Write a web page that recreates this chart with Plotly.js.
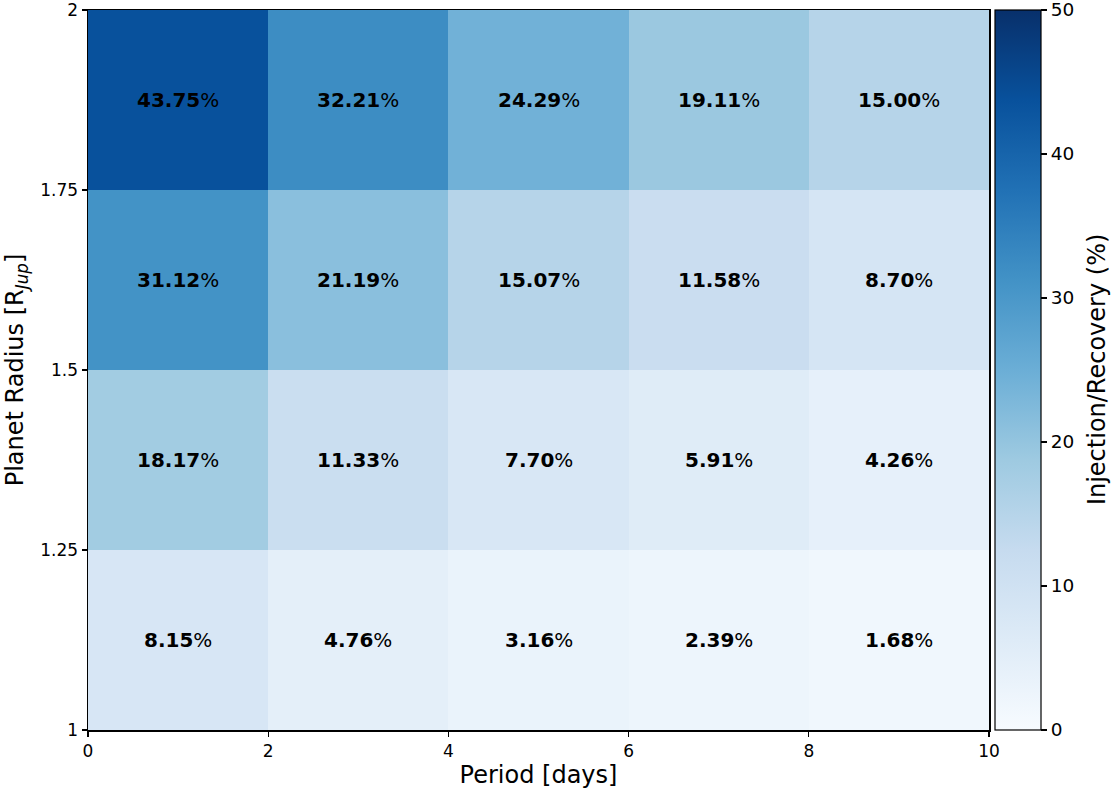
<!DOCTYPE html>
<html>
<head>
<meta charset="utf-8">
<script src="https://cdn.plot.ly/plotly-3.0.1.min.js"></script>
<style>html,body{margin:0;padding:0;background:#fff;}#chart{width:1112px;height:793px;}</style>
</head>
<body>
<div id="chart"></div>
<script>
// Period bin centers (days) and radius bin centers (R_Jup)
const periodCenters = [1, 3, 5, 7, 9];
const radiusCenters = [1.125, 1.375, 1.625, 1.875];
// Recovery (%) rows from low radius to high radius
const recRow1 = [8.15, 4.76, 3.16, 2.39, 1.68];
const recRow2 = [18.17, 11.33, 7.70, 5.91, 4.26];
const recRow3 = [31.12, 21.19, 15.07, 11.58, 8.70];
const recRow4 = [43.75, 32.21, 24.29, 19.11, 15.00];
const recovery = [recRow1, recRow2, recRow3, recRow4];
const xTicks = [0, 2, 4, 6, 8, 10];
const yTicks = [1, 1.25, 1.5, 1.75, 2];
const yTickText = ['1', '1.25', '1.5', '1.75', '2'];
const cbTicks = [0, 10, 20, 30, 40, 50];

const blues = ['#f7fbff','#deebf7','#c6dbef','#9ecae1','#6baed6','#4292c6','#2171b5','#08519c','#08306b'];
const colorscale = blues.map((c, i) => [i / (blues.length - 1), c]);

const font = 'DejaVu Sans, sans-serif';

const annotations = [];
radiusCenters.forEach((yv, i) => {
  periodCenters.forEach((xv, j) => {
    annotations.push({
      x: xv, y: yv, xref: 'x', yref: 'y',
      text: '<b>' + recovery[i][j].toFixed(2) + '</b>%',
      showarrow: false,
      font: {family: font, size: 20, color: '#000'}
    });
  });
});
// colorbar label
annotations.push({
  x: 1.12, y: 0.5, xref: 'paper', yref: 'paper', xanchor: 'center', yanchor: 'middle',
  text: 'Injection/Recovery (%)', textangle: -90, showarrow: false,
  font: {family: font, size: 24, color: '#000'}
});

const trace = {
  type: 'heatmap',
  x: periodCenters,
  y: radiusCenters,
  z: recovery,
  zmin: 0, zmax: 50,
  colorscale: colorscale,
  hoverinfo: 'skip',
  colorbar: {
    x: 1.0067, xanchor: 'left', xref: 'paper',
    y: 0, yanchor: 'bottom', len: 1, lenmode: 'fraction',
    thickness: 46, thicknessmode: 'pixels',
    outlinewidth: 1.2, outlinecolor: '#000',
    tickvals: cbTicks, ticks: 'outside', ticklen: 6, tickwidth: 1.2, tickcolor: '#000',
    ticklabeloverflow: 'allow',
    tickfont: {family: font, size: 18.5, color: '#000'},
    xpad: 0, ypad: 0
  }
};

const layout = {
  width: 1112, height: 793,
  margin: {l: 88, r: 123, t: 10, b: 63},
  paper_bgcolor: '#fff', plot_bgcolor: '#fff',
  font: {family: font, color: '#000'},
  xaxis: {
    range: [0, 10], tickvals: xTicks, ticks: 'outside', ticklen: 5, tickwidth: 1.2, tickcolor: '#000',
    showline: true, linecolor: '#000', linewidth: 1.5, mirror: true, showgrid: false, zeroline: false,
    ticklabeloverflow: 'allow',
    tickfont: {family: font, size: 17, color: '#000'},
    title: {text: 'Period [days]', font: {family: font, size: 24, color: '#000'}, standoff: 6}
  },
  yaxis: {
    range: [1, 2], tickvals: yTicks, ticktext: yTickText, ticks: 'outside', ticklen: 5, tickwidth: 1.2, tickcolor: '#000',
    showline: true, linecolor: '#000', linewidth: 1.5, mirror: true, showgrid: false, zeroline: false,
    ticklabeloverflow: 'allow',
    tickfont: {family: font, size: 17, color: '#000'},
    title: {text: 'Planet Radius [R<sub><i>Jup</i></sub>]', font: {family: font, size: 24, color: '#000'}, standoff: 10}
  },
  annotations: annotations
};

Plotly.newPlot('chart', [trace], layout, {displayModeBar: false, staticPlot: true});
</script>
</body>
</html>
